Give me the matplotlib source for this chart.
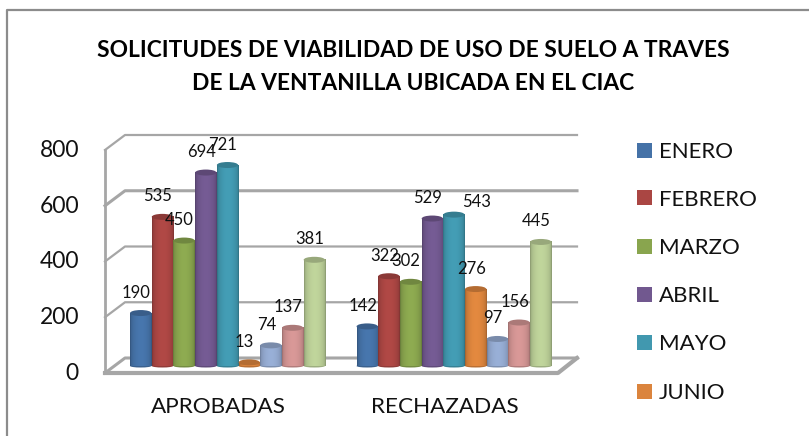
import numpy as np
import matplotlib
matplotlib.use("Agg")
import matplotlib.pyplot as plt
from matplotlib.patches import Ellipse, Rectangle
from matplotlib.colors import to_rgb

plt.rcParams["font.family"] = ["Lato", "DejaVu Sans"]

W, H = 809, 436

# data
grupos = ["APROBADAS", "RECHAZADAS"]
meses = ["ENERO", "FEBRERO", "MARZO", "ABRIL", "MAYO", "JUNIO", "JULIO", "AGOSTO", "SEPTIEMBRE"]
aprobadas = [190, 535, 450, 694, 721, 13, 74, 137, 381]
rechazadas = [142, 322, 302, 529, 543, 276, 97, 156, 445]
colores = ["#4572a7", "#aa4643", "#89a54e", "#71588f", "#4198af", "#db843d", "#93a9cf", "#d19392", "#b9cd96"]
yticks = [0, 200, 400, 600, 800]
titulo = "SOLICITUDES DE VIABILIDAD DE USO DE SUELO A TRAVES\nDE LA VENTANILLA UBICADA EN EL CIAC"

fig = plt.figure(figsize=(W / 100, H / 100), dpi=100)

# pixel layer for frame and the 3d walls
bg = fig.add_axes([0, 0, 1, 1])
bg.set_xlim(0, W)
bg.set_ylim(H, 0)
bg.axis("off")
bg.plot([7, 7, W], [H, 10, 10], color="#8c8c8c", lw=1.6, solid_capstyle="butt")

gris = "#a6a6a6"
y0_px, y800_px = 366, 143
dy_back = -8
dx_back = 20
left_px = 105
right_px = 577
for t in yticks:
    yp = y0_px + (y800_px - y0_px) * t / 800
    lw = 2.2 if t in (600, 0) else 1.6
    bg.plot([left_px, left_px + dx_back, right_px], [yp + 7, yp + dy_back, yp + dy_back], color=gris, lw=lw)
bg.plot([left_px, left_px], [y800_px + 7, y0_px + 7], color=gris, lw=2)
bg.plot([left_px, 558, right_px], [y0_px + 7, y0_px + 7, y0_px + dy_back], color=gris, lw=3)

# chart axes, scale lined up with the wall
ax = fig.add_axes([0, 0, 1, 1], facecolor="none")
g0, g1 = 227.5, 454.0
sep = g1 - g0
ppu = (y0_px - y800_px) / 800
ax.axis("off")

ancho = 21.7 / sep
n = len(meses)
grad = np.linspace(0, 1, 32)
sombra = 0.74 + 0.3 * np.sin(grad * np.pi) ** 0.4
for g, valores in enumerate([aprobadas, rechazadas]):
    for i, v in enumerate(valores):
        x = g + (i - (n - 1) / 2) * ancho
        bar = ax.bar(x, v, ancho * 0.98, color=colores[i], zorder=3)[0]
        rgb = np.array(to_rgb(colores[i]))
        img = np.clip(rgb[None, None, :] * sombra[None, :, None], 0, 1)
        ax.imshow(img, extent=[bar.get_x(), bar.get_x() + bar.get_width(), 0, v],
                  aspect="auto", zorder=3.1, interpolation="bilinear")
        ax.add_patch(Ellipse((x, v), ancho * 0.98, 6 / ppu, color=rgb * 0.82, zorder=3.2, lw=0))
        ax.add_patch(Ellipse((x, 0), ancho * 0.98, 3 / ppu, color=rgb * 0.85, zorder=2.9, lw=0))
        # labels sit left of the bar and overlap it like the original
        dx, dy = -4.5, 20.5
        if v == 543:
            dx, dy = 23, 12.5
        ax.annotate(str(v), (x, v), xytext=(dx * 0.72, dy * 0.72), textcoords="offset points",
                    ha="center", va="center", fontsize=12, color="#111111", zorder=5)
    ax.text(g - 9 / sep, -41 / ppu, grupos[g], ha="center", va="center", fontsize=16.2, color="#111111")

ax.set_xlim((0 - g0) / sep, (W - g0) / sep)
ax.set_ylim((y0_px - H) / ppu, y0_px / ppu)

for t in yticks:
    ax.text(-(g0 - 79) / sep, t - 7.5 / ppu, str(t), ha="right", va="center", fontsize=16.5, color="#111111")

fig.text(413 / W, 1 - 67 / H, titulo, ha="center", va="center", fontsize=16.4, fontweight="bold",
         linespacing=1.65, color="#000000")

# legend, only the first six fit, same as the original
leg_y = [150, 198, 246, 294, 342, 391]
for m, c, yp in zip(meses[:6], colores[:6], leg_y):
    bg.add_patch(Rectangle((637, yp - 7.5), 15, 15, color=c, lw=0))
    bg.text(659, yp + 1.5, m, ha="left", va="center", fontsize=16, color="#111111")

fig.savefig("out.png", dpi=100)
